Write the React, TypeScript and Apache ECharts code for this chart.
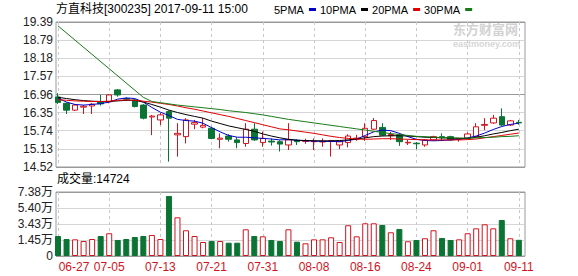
import React, { useEffect, useRef } from 'react';
import * as echarts from 'echarts';

// Trading days shown (categories)
const DATES = [
  '06-27', '06-28', '06-29', '06-30', '07-03', '07-04', '07-05', '07-06', '07-07', '07-10',
  '07-11', '07-12', '07-13', '07-14', '07-17', '07-18', '07-19', '07-20', '07-21', '07-24',
  '07-25', '07-26', '07-27', '07-28', '07-31', '08-01', '08-02', '08-03', '08-04', '08-07',
  '08-08', '08-09', '08-10', '08-11', '08-14', '08-15', '08-16', '08-17', '08-18', '08-21',
  '08-22', '08-23', '08-24', '08-25', '08-28', '08-29', '08-30', '08-31', '09-01', '09-04',
  '09-05', '09-06', '09-07', '09-08', '09-11',
];
const AXIS_DATES = ['06-27', '07-05', '07-13', '07-21', '07-31', '08-08', '08-16', '08-24', '09-01', '09-11'];

const OPEN = [
  16.87, 16.66, 16.43, 16.53, 16.57, 16.70, 16.71, 17.11, 16.82, 16.77,
  16.60, 16.20, 16.10, 16.38, 15.60, 15.54, 15.96, 15.86, 15.82, 15.45,
  15.56, 15.43, 15.31, 15.79, 15.34, 15.39, 15.37, 15.26, 15.41, 15.38,
  15.37, 15.36, 15.38, 15.26, 15.34, 15.45, 15.54, 15.79, 15.85, 15.57,
  15.59, 15.33, 15.32, 15.26, 15.43, 15.54, 15.54, 15.45, 15.48, 15.54,
  15.92, 16.00, 16.21, 15.93, 16.02,
];
const CLOSE = [
  16.69, 16.43, 16.60, 16.56, 16.63, 16.64, 16.94, 16.94, 16.80, 16.55,
  16.16, 16.23, 16.27, 16.16, 15.65, 16.10, 16.01, 15.92, 15.48, 15.49,
  15.45, 15.34, 15.79, 15.43, 15.48, 15.36, 15.29, 15.43, 15.37, 15.41,
  15.39, 15.38, 15.40, 15.37, 15.56, 15.49, 15.82, 16.08, 15.59, 15.61,
  15.37, 15.35, 15.30, 15.43, 15.54, 15.50, 15.43, 15.48, 15.63, 15.87,
  15.95, 16.16, 15.93, 16.07, 16.00,
];
const LOW = [
  16.64, 16.30, 16.40, 16.30, 16.30, 16.58, 16.66, 16.88, 16.74, 16.52,
  16.12, 15.59, 15.93, 14.70, 14.87, 15.31, 15.79, 15.82, 15.45, 15.15,
  15.37, 15.15, 15.20, 15.40, 15.20, 15.24, 15.04, 15.09, 15.26, 15.30,
  15.09, 15.20, 14.87, 15.12, 15.18, 15.40, 15.40, 15.77, 15.56, 15.43,
  15.23, 15.26, 15.12, 15.20, 15.40, 15.43, 15.40, 15.37, 15.45, 15.50,
  15.76, 15.97, 15.90, 15.90, 15.94,
];
const HIGH = [
  17.00, 16.69, 16.63, 16.60, 16.67, 16.94, 16.97, 17.14, 16.86, 16.80,
  16.63, 16.27, 16.33, 16.42, 15.99, 16.16, 16.10, 16.16, 15.87, 15.65,
  15.62, 15.52, 15.99, 15.99, 15.71, 15.48, 15.42, 15.99, 15.45, 15.47,
  15.48, 15.48, 15.43, 15.40, 15.62, 15.60, 15.99, 16.16, 15.99, 15.70,
  15.65, 15.43, 15.36, 15.46, 15.57, 15.65, 15.57, 15.50, 15.68, 15.99,
  16.16, 16.27, 16.49, 16.10, 16.10,
];

// Volume in 万 (10k shares)
const VOLUME_WAN = [
  1.94, 1.57, 1.53, 1.32, 1.57, 1.94, 2.28, 1.45, 1.57, 1.82,
  1.94, 2.07, 1.57, 6.89, 4.25, 2.65, 1.94, 1.20, 1.32, 1.32,
  1.11, 1.11, 2.77, 1.94, 1.90, 1.45, 1.32, 2.77, 1.24, 1.04,
  1.53, 1.53, 1.78, 1.20, 3.27, 1.90, 3.51, 3.51, 3.30, 2.40,
  2.81, 1.29, 1.45, 1.66, 2.65, 1.70, 1.45, 1.53, 2.28, 2.89,
  3.39, 2.89, 3.92, 1.66, 1.47,
];
const LAST_VOLUME = 14724;

const MA5 = [
  16.83, 16.70, 16.62, 16.60, 16.62, 16.65, 16.70, 16.80, 16.84, 16.82,
  16.70, 16.52, 16.36, 16.25, 16.12, 16.08, 16.06, 15.99, 15.84, 15.70,
  15.58, 15.52, 15.52, 15.50, 15.48, 15.46, 15.43, 15.44, 15.42, 15.40,
  15.39, 15.38, 15.38, 15.37, 15.41, 15.46, 15.58, 15.70, 15.76, 15.74,
  15.65, 15.54, 15.45, 15.41, 15.40, 15.41, 15.43, 15.45, 15.50, 15.56,
  15.66, 15.78, 15.88, 15.95, 15.99,
];
const MA10 = [
  16.86, 16.82, 16.78, 16.75, 16.73, 16.72, 16.72, 16.74, 16.76, 16.76,
  16.70, 16.62, 16.53, 16.43, 16.35, 16.28, 16.22, 16.16, 16.06, 15.98,
  15.90, 15.84, 15.78, 15.72, 15.63, 15.56, 15.50, 15.45, 15.42, 15.41,
  15.40, 15.40, 15.40, 15.41, 15.43, 15.46, 15.50, 15.54, 15.56, 15.57,
  15.57, 15.56, 15.54, 15.52, 15.51, 15.50, 15.49, 15.48, 15.48, 15.52,
  15.57, 15.63, 15.68, 15.74, 15.79,
];
const MA20 = [
  16.78, 16.76, 16.74, 16.73, 16.72, 16.72, 16.73, 16.76, 16.77, 16.76,
  16.73, 16.70, 16.66, 16.62, 16.57, 16.51, 16.46, 16.40, 16.34, 16.28,
  16.22, 16.15, 16.08, 16.01, 15.94, 15.87, 15.80, 15.77, 15.73, 15.69,
  15.65, 15.60, 15.55, 15.51, 15.48, 15.46, 15.45, 15.46, 15.47, 15.47,
  15.46, 15.45, 15.44, 15.43, 15.43, 15.43, 15.43, 15.43, 15.44, 15.46,
  15.50, 15.54, 15.58, 15.62, 15.66,
];
const MA30: (number | null)[] = [
  19.26, null, null, null, null, null, null, null, null, null,
  16.86, 16.72, 16.68, 16.64, 16.60, 16.57, 16.54, 16.51, 16.48, 16.45,
  16.41, 16.38, 16.35, 16.31, 16.27, 16.22, 16.17, 16.12, 16.08, 16.04,
  16.00, 15.96, 15.92, 15.88, 15.84, 15.80, 15.76, 15.72, 15.68, 15.64,
  15.61, 15.58, 15.55, 15.54, 15.52, 15.51, 15.50, 15.49, 15.49, 15.50,
  15.51, 15.52, 15.54, 15.55, 15.57,
];

const PRICE_TICKS = ['14.52', '15.13', '15.74', '16.35', '16.96', '17.57', '18.18', '18.79', '19.39'];
const PRICE_MIN = 14.52;
const PRICE_MAX = 19.39;
const VOLUME_TICKS = ['0', '1.45万', '3.43万', '5.40万', '7.38万'];
const VOL_AXIS_BOTTOM = -0.53;
const VOL_AXIS_TOP = 7.38;

const RED = '#d0141e';
const GREEN = '#0b7434';
const FONT = "'Liberation Sans', 'Noto Sans CJK SC', sans-serif";

export default function App() {
  const ref = useRef<HTMLDivElement>(null);

  useEffect(() => {
    if (!ref.current) return;
    const chart = echarts.init(ref.current, null, { renderer: 'svg' });

    const tickIdx = AXIS_DATES.map((d) => DATES.indexOf(d));
    const xMin = -0.234;
    const xMax = 54.72;

    const candleData = DATES.map((_, i) => [i, OPEN[i], CLOSE[i], LOW[i], HIGH[i]]);
    const volData = DATES.map((_, i) => {
      const up = CLOSE[i] >= OPEN[i];
      return {
        value: [i, VOLUME_WAN[i] - VOL_AXIS_BOTTOM],
        itemStyle: up
          ? { color: '#ffffff', borderColor: RED, borderWidth: 1 }
          : { color: GREEN, borderColor: GREEN, borderWidth: 1 },
      };
    });
    const ma = (arr: (number | null)[]) =>
      arr.map((v, i) => [i, v]).filter((p) => p[1] != null);

    const xBase = {
      type: 'value',
      min: xMin,
      max: xMax,
      axisLine: { show: false },
      axisTick: { show: false, customValues: tickIdx },
      splitLine: { show: true, lineStyle: { color: '#c8c8c8', type: [3, 3], width: 1 } },
    };

    const hLight = '#d6d6d6';
    const hDark = '#9a9a9a';

    const option: any = {
      animation: false,
      backgroundColor: '#ffffff',
      title: [
        {
          text: '方直科技[300235] 2017-09-11 15:00',
          left: 56,
          top: 3,
          padding: 0,
          textStyle: { fontSize: 12, fontWeight: 'normal', color: '#000', fontFamily: FONT },
        },
        {
          text: `成交量:${LAST_VOLUME}`,
          left: 57,
          top: 173,
          padding: 0,
          textStyle: { fontSize: 12, fontWeight: 'normal', color: '#000', fontFamily: FONT },
        },
      ],
      legend: {
        data: ['5PMA', '10PMA', '20PMA', '30PMA'],
        left: 274,
        top: 4,
        padding: 0,
        align: 'right',
        icon: 'rect',
        itemWidth: 7,
        itemHeight: 3,
        itemGap: 4,
        selectedMode: false,
        textStyle: { fontSize: 11, color: '#000', fontFamily: FONT },
      },
      grid: [
        { left: 56, top: 22, width: 469, height: 145, show: true, borderColor: '#9a9a9a', borderWidth: 1, backgroundColor: '#fff' },
        { left: 56, top: 192, width: 469, height: 64, show: true, borderColor: '#9a9a9a', borderWidth: 1, backgroundColor: '#fff' },
      ],
      xAxis: [
        { ...xBase, gridIndex: 0, axisLabel: { show: false } },
        {
          ...xBase,
          gridIndex: 1,
          axisLabel: {
            show: true,
            customValues: tickIdx,
            color: RED,
            fontSize: 12,
            fontFamily: FONT,
            margin: 5,
            formatter: (v: number) => {
              const k = Math.round(v);
              const d = DATES[k];
              return k === tickIdx[0] ? `{first|${d}}` : d;
            },
            rich: {
              first: { padding: [0, 0, 0, 32], color: RED, fontSize: 12, fontFamily: FONT },
            },
          },
        },
      ],
      yAxis: [
        {
          type: 'value',
          gridIndex: 0,
          min: PRICE_MIN,
          max: PRICE_MAX,
          interval: (PRICE_MAX - PRICE_MIN) / 8,
          axisLine: { show: false },
          axisTick: { show: false },
          axisLabel: {
            color: '#222',
            fontSize: 12,
            fontFamily: FONT,
            margin: 3,
            formatter: (_v: number, i: number) => PRICE_TICKS[i] ?? '',
          },
          splitLine: {
            show: true,
            lineStyle: { color: [hDark, hLight, hLight, hLight, hDark, hLight, hLight, hLight, hDark], width: 1 },
          },
        },
        {
          type: 'value',
          gridIndex: 1,
          min: 0,
          max: VOL_AXIS_TOP - VOL_AXIS_BOTTOM,
          interval: (VOL_AXIS_TOP - VOL_AXIS_BOTTOM) / 4,
          axisLine: { show: false },
          axisTick: { show: false },
          axisLabel: {
            color: '#222',
            fontSize: 12,
            fontFamily: FONT,
            margin: 3,
            formatter: (_v: number, i: number) => VOLUME_TICKS[i] ?? '',
          },
          splitLine: {
            show: true,
            lineStyle: { color: [hDark, hLight, hLight, hLight, hDark], width: 1 },
          },
        },
      ],
      graphic: [
        {
          type: 'text',
          left: 453,
          top: 22,
          z: 0,
          style: { text: '东方财富网', font: "bold 13px 'Noto Sans CJK SC'", fill: '#d2d2d2' },
        },
        {
          type: 'text',
          left: 453,
          top: 39,
          z: 0,
          style: { text: 'eastmoney.com', font: "bold 9px 'Liberation Sans'", fill: '#d6d6d6' },
        },
      ],
      series: [
        {
          type: 'candlestick',
          name: 'K',
          xAxisIndex: 0,
          yAxisIndex: 0,
          data: candleData,
          encode: { x: 0, y: [1, 2, 3, 4] },
          barWidth: 6,
          clip: false,
          itemStyle: {
            color: '#ffffff',
            color0: GREEN,
            borderColor: RED,
            borderColor0: GREEN,
            borderWidth: 1,
          },
        },
        {
          type: 'line', name: '5PMA', xAxisIndex: 0, yAxisIndex: 0, data: ma(MA5),
          symbol: 'none', showSymbol: false, lineStyle: { width: 1, color: '#0000c8' }, itemStyle: { color: '#0000c8' },
        },
        {
          type: 'line', name: '10PMA', xAxisIndex: 0, yAxisIndex: 0, data: ma(MA10),
          symbol: 'none', showSymbol: false, lineStyle: { width: 1, color: '#000000' }, itemStyle: { color: '#000000' },
        },
        {
          type: 'line', name: '20PMA', xAxisIndex: 0, yAxisIndex: 0, data: ma(MA20),
          symbol: 'none', showSymbol: false, lineStyle: { width: 1, color: '#e00000' }, itemStyle: { color: '#e00000' },
        },
        {
          type: 'line', name: '30PMA', xAxisIndex: 0, yAxisIndex: 0, data: ma(MA30),
          symbol: 'none', showSymbol: false, lineStyle: { width: 1, color: '#1a7a1a' }, itemStyle: { color: '#1a7a1a' },
        },
        {
          type: 'bar',
          name: 'VOL',
          xAxisIndex: 1,
          yAxisIndex: 1,
          data: volData,
          barWidth: 6,
        },
      ],
    };

    chart.setOption(option);
    return () => {
      chart.dispose();
    };
  }, []);

  return (
    <div
      ref={ref}
      style={{ position: 'fixed', left: 0, top: 0, width: 578, height: 276, background: '#fff' }}
    />
  );
}
